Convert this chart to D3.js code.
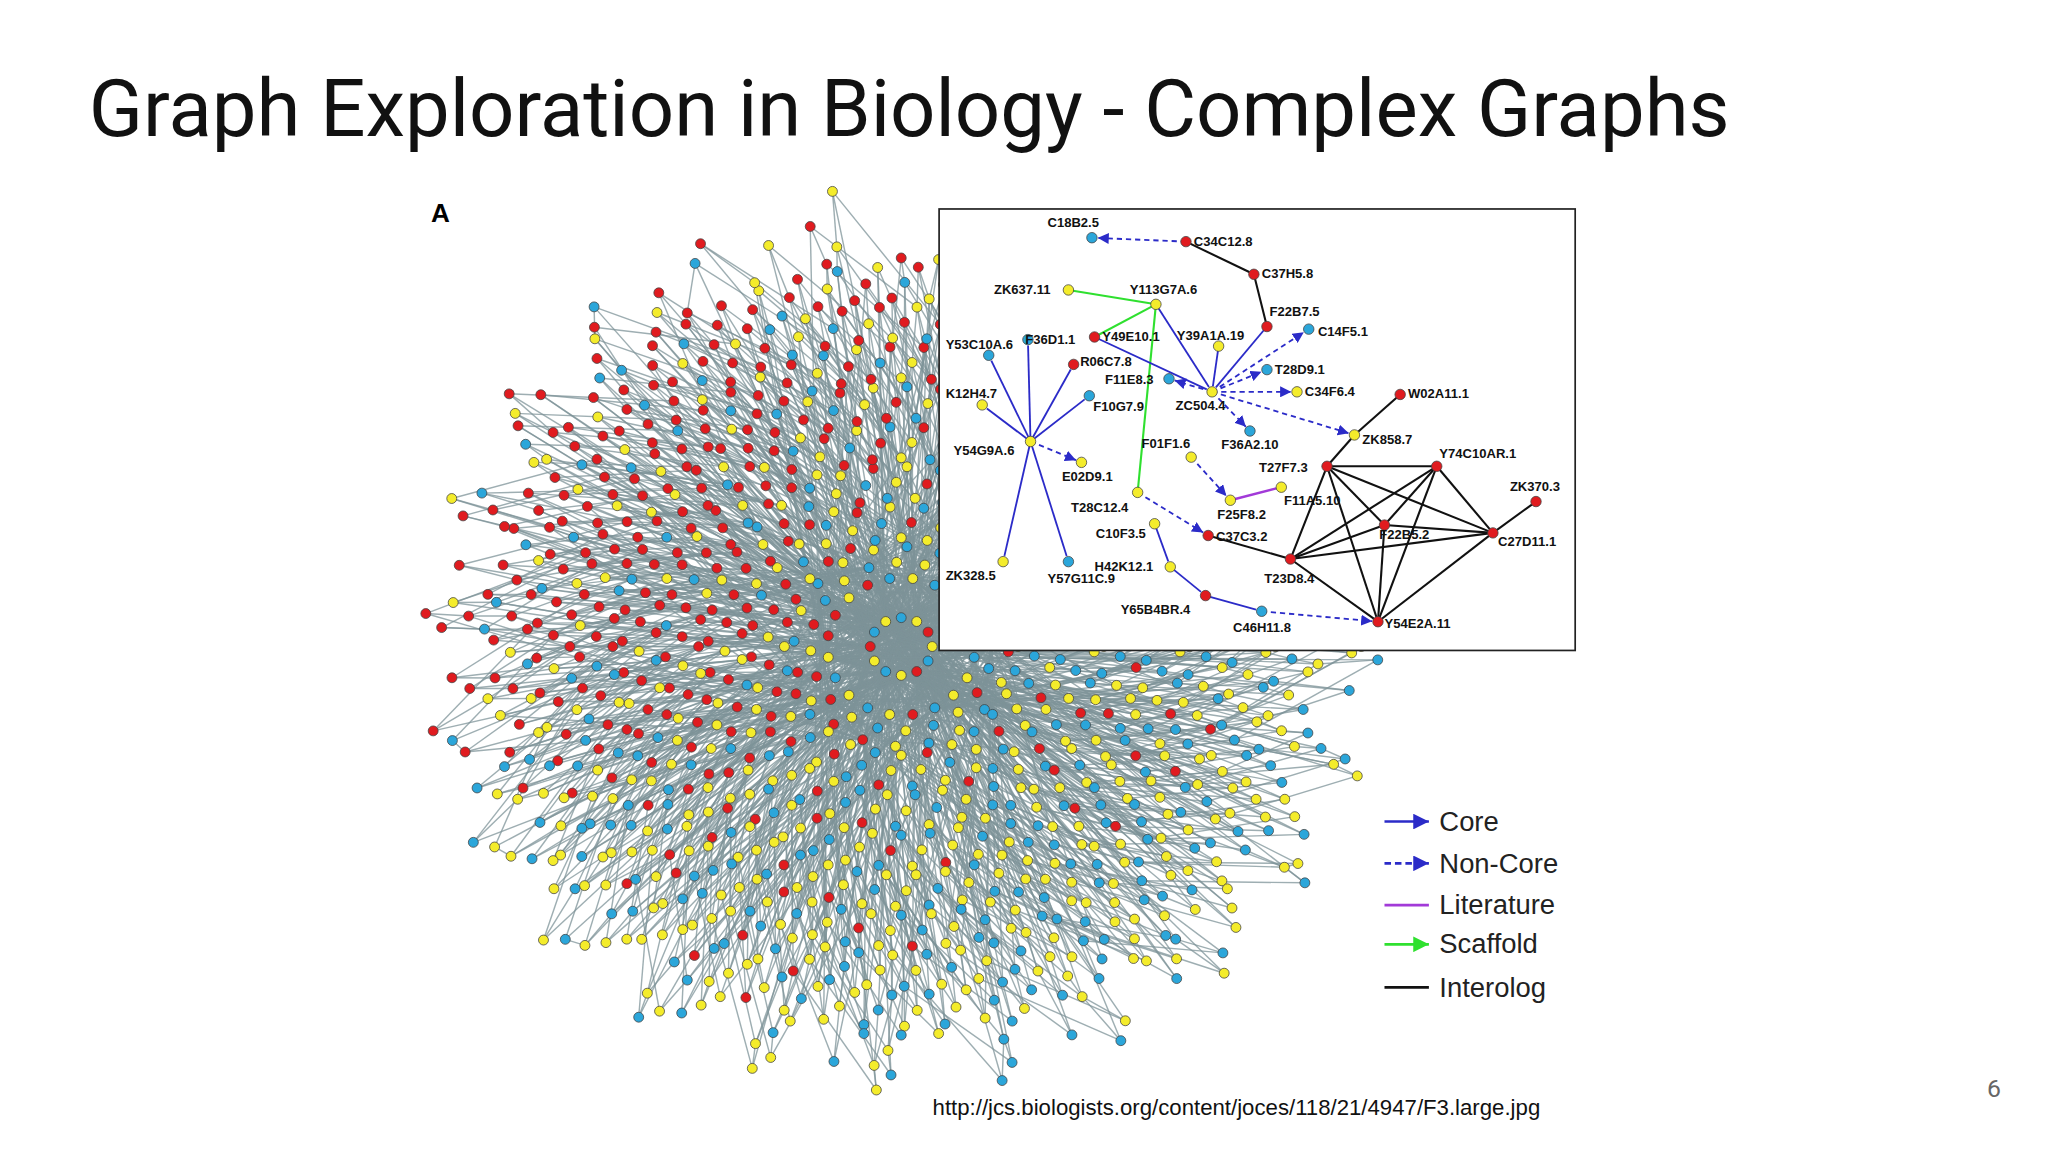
<!DOCTYPE html>
<html><head><meta charset="utf-8">
<script src="https://cdn.jsdelivr.net/npm/d3@7"></script>
<style>body{margin:0;background:#fff}svg{display:block}</style>
</head><body>
<svg id="chart" width="2048" height="1152"></svg>
<script>
// hairball rings, inner to outer: R red, Y yellow, B blue, . gap
var rings = [
  "YBRYBYRBYBYR",
  "BYYBRYBYBYRRYRBYBYYB",
  "YBYBBYRYBYYBRBYRRYRRBYYBRYBY",
  "BYYBYBRYBYBYYBRYBYRRYRRRYRBYBYRYBYYB",
  "YBYBYRYBYYBBYYRYBYBYRYRRYRRBRRYRRYBRYBRYBYRB",
  "BYYBYBRYBYBYYYBYBYYRYBYRYBRRYRRRBRRYRRRBYRYBRYRBYBYR",
  "YBYBYYBRYBYBYBYBYBYRYBYYBYBRYBRRBRRYRRRYRRBRRYRBYRRBYRBYRBYB",
  "BYBYYBYBYYBYBYBYBYYBYBRYBYYBYBRRYRRRBRRYRRBRRYBYRRYBRBYRBYRBY",
  "YBYBYYBYBYBYYBYBBYYBYBYYRYBYBYYBRRYRRBRRRYRRBRRRYRBYRBYRBYRRBYB",
  "Y.B.YB.Y.BY.Y.B.YBB.Y.YB.Y.BY.YB.Y.BR.R.YR.B.RR.Y.R.RYB.R.Y.RB.Y.R.B.Y",
  "Y..B..Y..B..Y..B..B..Y..Y..B..Y..B..R..R..Y..R..B..R....Y..R..B..R..Y.."
];
var subRings = [[-0.035, 0, 0], [0, 0.34, 3], [0.035, 0.67, 5]]; // [radius shift, angular step fraction, colour shift]
var nodeColors = {R: "#e01b1f", Y: "#f4ec2b", B: "#2ba6da"};

// inset network
var insetNodes = [
  ["C18B2.5",836,182,"B"],["C34C12.8",908,185,"R"],["C37H5.8",960,210,"R"],
  ["F22B7.5",970,250,"R"],["C14F5.1",1002,252,"B"],["ZK637.11",818,222,"Y"],
  ["Y113G7A.6",885,233,"Y"],["Y49E10.1",838,258,"R"],["Y39A1A.19",933,265,"Y"],
  ["Y53C10A.6",757,272,"B"],["F36D1.1",787,260,"B"],["R06C7.8",822,279,"R"],
  ["T28D9.1",970,283,"B"],["F11E8.3",895,290,"B"],["ZC504.4",928,300,"Y"],
  ["C34F6.4",993,300,"Y"],["W02A11.1",1072,302,"R"],["K12H4.7",752,310,"Y"],
  ["F10G7.9",834,303,"B"],["F36A2.10",957,330,"B"],["ZK858.7",1037,333,"Y"],
  ["Y54G9A.6",789,338,"Y"],["F01F1.6",912,350,"Y"],["E02D9.1",828,354,"Y"],
  ["T27F7.3",1016,357,"R"],["Y74C10AR.1",1100,357,"R"],["ZK370.3",1176,384,"R"],
  ["F11A5.10",981,373,"Y"],["F25F8.2",942,383,"Y"],["T28C12.4",871,377,"Y"],
  ["F22B5.2",1060,402,"R"],["C10F3.5",884,401,"Y"],["C37C3.2",925,410,"R"],
  ["C27D11.1",1143,408,"R"],["T23D8.4",988,428,"R"],["ZK328.5",768,430,"Y"],
  ["Y57G11C.9",818,430,"B"],["H42K12.1",896,434,"Y"],["Y65B4BR.4",923,456,"R"],
  ["C46H11.8",966,468,"B"],["Y54E2A.11",1055,476,"R"]
];
var insetEdges = [
  ["C34C12.8","C18B2.5","noncore"],["C34C12.8","C37H5.8","interolog"],["C37H5.8","F22B7.5","interolog"],
  ["F22B7.5","ZC504.4","core"],["ZC504.4","C14F5.1","noncore"],["ZK637.11","Y113G7A.6","scaffold"],
  ["Y113G7A.6","Y49E10.1","scaffold"],["Y113G7A.6","T28C12.4","scaffold"],["Y113G7A.6","ZC504.4","core"],
  ["Y39A1A.19","ZC504.4","core"],["Y49E10.1","ZC504.4","core"],["ZC504.4","T28D9.1","noncore"],
  ["ZC504.4","C34F6.4","noncore"],["ZC504.4","F11E8.3","noncore"],["ZC504.4","F36A2.10","noncore"],
  ["ZC504.4","ZK858.7","noncore"],["Y54G9A.6","Y53C10A.6","core"],["Y54G9A.6","F36D1.1","core"],
  ["Y54G9A.6","R06C7.8","core"],["Y54G9A.6","K12H4.7","core"],["Y54G9A.6","F10G7.9","core"],
  ["Y54G9A.6","ZK328.5","core"],["Y54G9A.6","Y57G11C.9","core"],["Y54G9A.6","E02D9.1","noncore"],
  ["F01F1.6","F25F8.2","noncore"],["F25F8.2","F11A5.10","literature"],["T28C12.4","C37C3.2","noncore"],
  ["C10F3.5","H42K12.1","core"],["H42K12.1","Y65B4BR.4","core"],["Y65B4BR.4","C46H11.8","core"],
  ["C46H11.8","Y54E2A.11","noncore"],["ZK858.7","W02A11.1","interolog"],["T27F7.3","Y74C10AR.1","interolog"],
  ["T27F7.3","F22B5.2","interolog"],["T27F7.3","C27D11.1","interolog"],["T27F7.3","T23D8.4","interolog"],
  ["T27F7.3","Y54E2A.11","interolog"],["Y74C10AR.1","F22B5.2","interolog"],["Y74C10AR.1","C27D11.1","interolog"],
  ["Y74C10AR.1","T23D8.4","interolog"],["Y74C10AR.1","Y54E2A.11","interolog"],["F22B5.2","C27D11.1","interolog"],
  ["F22B5.2","T23D8.4","interolog"],["F22B5.2","Y54E2A.11","interolog"],["C27D11.1","T23D8.4","interolog"],
  ["C27D11.1","Y54E2A.11","interolog"],["T23D8.4","Y54E2A.11","interolog"],["C37C3.2","T23D8.4","interolog"],
  ["ZK370.3","C27D11.1","interolog"],["ZK858.7","T27F7.3","interolog"]
];
// label offsets [dx, dy]
var labelPos = {
  "C18B2.5":[-34,-8],"Y53C10A.6":[-33,-5],"K12H4.7":[-28,-5],
  "Y54G9A.6":[-59,10],"ZK328.5":[-44,14],"Y57G11C.9":[-16,16],
  "H42K12.1":[-58,3],"C10F3.5":[-45,11],"Y65B4BR.4":[-65,14],
  "C46H11.8":[-22,16],"T28C12.4":[-51,15],"F01F1.6":[-38,-7],
  "ZC504.4":[-28,14],"F11E8.3":[-49,4],"E02D9.1":[-15,14],
  "T27F7.3":[-52,4],"Y74C10AR.1":[2,-6],"F36D1.1":[-2,3],
  "Y113G7A.6":[-20,-8],"Y39A1A.19":[-32,-5],"F25F8.2":[-10,14],
  "ZK370.3":[-20,-8],"F22B5.2":[-4,11],"C37C3.2":[6,4],
  "T23D8.4":[-20,18],"F36A2.10":[-22,14],"ZK858.7":[6,7],
  "C27D11.1":[4,10],"Y54E2A.11":[5,5],"ZK637.11":[-57,3],
  "Y49E10.1":[6,3],"R06C7.8":[5,1],"F10G7.9":[3,12],"F11A5.10":[2,14],
  "F22B7.5":[2,-8],"C14F5.1":[7,5]
};
var legendItems = [
  ["Core","#2b2bc8",null,true],["Non-Core","#2b2bc8","5,3",true],
  ["Literature","#a23ad8",null,false],["Scaffold","#2fe02f",null,true],["Interolog","#111",null,false]
];
var edgeStyle = {
  core:{c:"#2b2bc8",d:null,w:1.4,a:true}, noncore:{c:"#2b2bc8",d:"4,3",w:1.4,a:true},
  literature:{c:"#a23ad8",d:null,w:1.8,a:false}, scaffold:{c:"#2fe02f",d:null,w:1.6,a:false},
  interolog:{c:"#111",d:null,w:1.6,a:false}
};

var svg = d3.select("#chart");
var root = svg.append("g").attr("transform", "scale(" + (2048 / 1568) + ")");

root.append("text").attr("x", 68).attr("y", 104)
  .style("font-family", "Roboto, sans-serif").style("font-size", "61px").attr("fill", "#111")
  .text("Graph Exploration in Biology - Complex Graphs");
root.append("text").attr("x", 1532).attr("y", 840).attr("text-anchor", "end")
  .style("font-family", "Roboto, sans-serif").style("font-size", "19px").attr("fill", "#666").text("6");
root.append("text").attr("x", 714).attr("y", 854)
  .style("font-family", "Liberation Sans, Arial, sans-serif").style("font-size", "17px").attr("fill", "#111")
  .text("http://jcs.biologists.org/content/joces/118/21/4947/F3.large.jpg");
root.append("text").attr("x", 330).attr("y", 170)
  .style("font-family", "Liberation Sans, Arial, sans-serif").style("font-size", "20px").style("font-weight", "bold")
  .text("A");

// hairball layout from rings
var cx = 690, cy = 495;
var xs = d3.scaleLinear().domain([-1, 1]).range([cx - 365, cx + 365]);
var ys = d3.scaleLinear().domain([-1, 1]).range([cy - 340, cy + 340]);
var rScale = d3.scaleLinear().domain([0, rings.length - 1]).range([0.1, 1]);
var hb = [];
rings.forEach(function (s, k) {
  var n = s.length, list = [];
  subRings.forEach(function (sr, j) {
    if (k === 0 && j > 0) return;
    s.split("").forEach(function (ch0, i) {
      var ch = s[(i + sr[2]) % n];
      if (ch0 === "." || ch === ".") return;
      var a = 2 * Math.PI * (i + sr[1] + 0.5 * (k % 2)) / n, r = rScale(k) + sr[0];
      list.push({k: k, a: a, x: xs(r * Math.cos(a)), y: ys(r * Math.sin(a)), c: nodeColors[ch]});
    });
  });
  hb.push(list);
});
function nearest(list, a) {
  var best = list[0], bd = 9;
  list.forEach(function (n) {
    var d = Math.abs(Math.atan2(Math.sin(n.a - a), Math.cos(n.a - a)));
    if (d < bd) { bd = d; best = n; }
  });
  return best;
}
var hbLinks = [];
hb.forEach(function (list, k) {
  if (k === 0) return;
  list.forEach(function (n, i) {
    hbLinks.push([n, nearest(hb[k - 1], n.a)]);
    if (k >= 3 && i % 2 === 0) hbLinks.push([n, hb[0][i % hb[0].length]]);
    if (k >= 4 && i % 2 === 1) hbLinks.push([n, hb[1][(i * 3) % hb[1].length]]);
    if (k >= 6) hbLinks.push([n, nearest(hb[k - 3], n.a + 0.25)]);
  });
});
root.append("g").selectAll("line").data(hbLinks).join("line")
  .attr("x1", function (d) { return d[0].x; }).attr("y1", function (d) { return d[0].y; })
  .attr("x2", function (d) { return d[1].x; }).attr("y2", function (d) { return d[1].y; })
  .attr("stroke", "#7d9398").attr("stroke-width", 1.1).attr("stroke-opacity", 0.75);
root.append("g").selectAll("circle").data(hb.flat()).join("circle")
  .attr("cx", function (d) { return d.x; }).attr("cy", function (d) { return d.y; }).attr("r", 3.8)
  .attr("fill", function (d) { return d.c; }).attr("stroke", "#444").attr("stroke-width", 0.6);

// markers
var defs = svg.append("defs");
["blue", "green"].forEach(function (nm) {
  defs.append("marker").attr("id", "arr-" + nm).attr("viewBox", "0 0 10 10").attr("refX", 10).attr("refY", 5)
    .attr("markerWidth", 6).attr("markerHeight", 6).attr("orient", "auto")
    .append("path").attr("d", "M0,0L10,5L0,10z").attr("fill", nm === "blue" ? "#2b2bc8" : "#2fe02f");
});

// inset
var inset = root.append("g");
inset.append("rect").attr("x", 719).attr("y", 160).attr("width", 487).attr("height", 338)
  .attr("fill", "#fff").attr("stroke", "#222").attr("stroke-width", 1.3);
var byId = {};
insetNodes.forEach(function (n) { byId[n[0]] = {id: n[0], x: n[1], y: n[2], c: nodeColors[n[3]]}; });
inset.append("g").selectAll("line").data(insetEdges).join("line")
  .each(function (d) {
    var a = byId[d[0]], b = byId[d[1]], st = edgeStyle[d[2]];
    var dx = b.x - a.x, dy = b.y - a.y, L = Math.sqrt(dx * dx + dy * dy), sh = st.a ? 4.5 / L : 0;
    d3.select(this).attr("x1", a.x).attr("y1", a.y).attr("x2", b.x - dx * sh).attr("y2", b.y - dy * sh)
      .attr("stroke", st.c).attr("stroke-width", st.w).attr("stroke-dasharray", st.d)
      .attr("marker-end", st.a && d[2] === "noncore" ? "url(#arr-blue)" : null);
  });
var nd = inset.append("g").selectAll("g").data(Object.values(byId)).join("g");
nd.append("circle").attr("cx", function (d) { return d.x; }).attr("cy", function (d) { return d.y; }).attr("r", 4)
  .attr("fill", function (d) { return d.c; }).attr("stroke", "#444").attr("stroke-width", 0.6);
nd.append("text")
  .attr("x", function (d) { return d.x + (labelPos[d.id] ? labelPos[d.id][0] : 6); })
  .attr("y", function (d) { return d.y + (labelPos[d.id] ? labelPos[d.id][1] : 3); })
  .style("font-family", "Liberation Sans, Arial, sans-serif").style("font-size", "10px").style("font-weight", "bold")
  .attr("fill", "#111").text(function (d) { return d.id; });

// legend
var lg = root.append("g").selectAll("g").data(legendItems).join("g")
  .attr("transform", function (d, i) { return "translate(1060," + [629, 661, 693, 723, 756][i] + ")"; });
lg.append("line").attr("x1", 0).attr("x2", 34).attr("stroke", function (d) { return d[1]; })
  .attr("stroke-width", 2).attr("stroke-dasharray", function (d) { return d[2]; })
  .attr("marker-end", function (d) { return d[3] ? (d[0] === "Scaffold" ? "url(#arr-green)" : "url(#arr-blue)") : null; });
lg.append("text").attr("x", 42).attr("y", 7)
  .style("font-family", "Liberation Sans, Arial, sans-serif").style("font-size", "21px").attr("fill", "#222")
  .text(function (d) { return d[0]; });
</script>
</body></html>
